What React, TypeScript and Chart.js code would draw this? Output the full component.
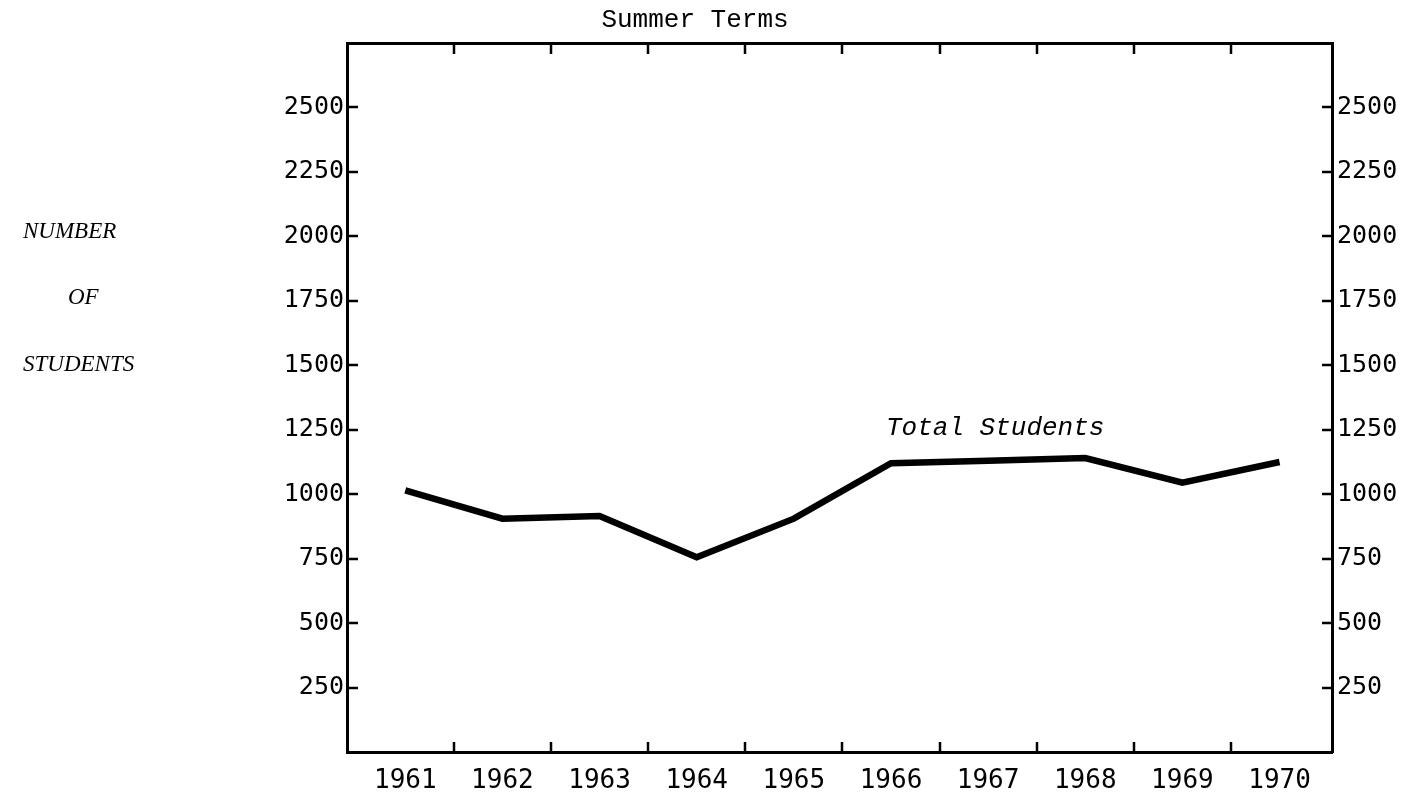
import React, { useEffect, useRef } from "react";
import { Chart, registerables } from "chart.js";

Chart.register(...registerables);

// ---- data ----
const years = [1961, 1962, 1963, 1964, 1965, 1966, 1967, 1968, 1969, 1970];
const totalStudents = [1015, 905, 915, 755, 905, 1120, 1130, 1140, 1045, 1125];
const yTickValues = [250, 500, 750, 1000, 1250, 1500, 1750, 2000, 2250, 2500];
const chartTitle = "Summer Terms";
const yTitleLines = ["NUMBER", "OF", "STUDENTS"];
const seriesLabel = "Total Students";

const W = 1417;
const H = 796;

const decorPlugin = {
  id: "decor",
  afterDraw(chart: any) {
    const ctx = chart.ctx;
    const area = chart.chartArea;
    const xs = chart.scales.x;
    const ys = chart.scales.y;
    ctx.save();
    // inward tick marks
    ctx.strokeStyle = "#000";
    ctx.lineWidth = 2.5;
    ctx.beginPath();
    for (let i = 0; i < years.length - 1; i++) {
      const px = Math.round(xs.getPixelForValue(years[i] + 0.5));
      ctx.moveTo(px, area.bottom);
      ctx.lineTo(px, area.bottom - 10);
      ctx.moveTo(px, area.top);
      ctx.lineTo(px, area.top + 11);
    }
    for (const v of yTickValues) {
      const py = Math.round(ys.getPixelForValue(v));
      ctx.moveTo(area.left, py);
      ctx.lineTo(area.left + 11, py);
      ctx.moveTo(area.right, py);
      ctx.lineTo(area.right - 10, py);
    }
    ctx.stroke();

    ctx.fillStyle = "#000";
    // title
    ctx.font = "26px 'Liberation Mono'";
    ctx.textAlign = "center";
    ctx.textBaseline = "alphabetic";
    ctx.fillText(chartTitle, 695, 27);

    // left axis caption
    ctx.font = "italic 23px 'Liberation Serif'";
    ctx.textAlign = "left";
    const capX = [23, 68, 23];
    const capY = [238, 304, 371];
    yTitleLines.forEach((t, i) => ctx.fillText(t, capX[i], capY[i]));

    // series label
    ctx.font = "italic 26px 'Liberation Mono'";
    ctx.textAlign = "left";
    ctx.fillText(seriesLabel, xs.getPixelForValue(1966) - 5, ys.getPixelForValue(1230));
    ctx.restore();
  },
};

export default function App() {
  const ref = useRef<HTMLCanvasElement | null>(null);

  useEffect(() => {
    if (!ref.current) return;
    const tickFont = { family: "'DejaVu Sans Mono'", size: 25 };
    const chart = new Chart(ref.current, {
      type: "line",
      data: {
        datasets: [
          {
            label: seriesLabel,
            data: years.map((yr, i) => ({ x: yr, y: totalStudents[i] })),
            borderColor: "#000",
            backgroundColor: "#000",
            borderWidth: 6.5,
            pointRadius: 0,
            tension: 0,
          },
        ],
      },
      options: {
        responsive: false,
        animation: false,
        layout: { padding: 0 },
        plugins: {
          legend: { display: false },
          title: { display: false },
          tooltip: { enabled: false },
        },
        scales: {
          x: {
            type: "linear",
            position: "bottom",
            min: 1960.4,
            max: 1970.54,
            afterBuildTicks: (s: any) => {
              s.ticks = years.map((v) => ({ value: v }));
            },
            afterFit: (s: any) => {
              s.height = 44;
            },
            ticks: {
              color: "#000",
              font: { family: "'DejaVu Sans Mono'", size: 26 },
              padding: 14,
              maxRotation: 0,
              autoSkip: false,
              callback: (v: any) => String(v),
            },
            grid: { display: false, drawTicks: false },
            border: { display: true, color: "#000", width: 3 },
          },
          x2: {
            type: "linear",
            position: "top",
            min: 1960.4,
            max: 1970.54,
            afterFit: (s: any) => {
              s.height = 43;
            },
            ticks: { display: false },
            grid: { display: false, drawTicks: false },
            border: { display: true, color: "#000", width: 3 },
          },
          y: {
            type: "linear",
            position: "left",
            min: 0,
            max: 2750,
            afterBuildTicks: (s: any) => {
              s.ticks = yTickValues.map((v) => ({ value: v }));
            },
            afterFit: (s: any) => {
              s.width = 347;
            },
            ticks: {
              color: "#000",
              font: tickFont,
              padding: 3,
              autoSkip: false,
              callback: (v: any) => String(v),
            },
            grid: { display: false, drawTicks: false },
            border: { display: true, color: "#000", width: 3 },
          },
          y2: {
            type: "linear",
            position: "right",
            min: 0,
            max: 2750,
            afterBuildTicks: (s: any) => {
              s.ticks = yTickValues.map((v) => ({ value: v }));
            },
            afterFit: (s: any) => {
              s.width = W - 1332;
            },
            ticks: {
              color: "#000",
              font: tickFont,
              padding: 5,
              autoSkip: false,
              callback: (v: any) => String(v),
            },
            grid: { display: false, drawTicks: false },
            border: { display: true, color: "#000", width: 3 },
          },
        },
      } as any,
      plugins: [decorPlugin],
    });
    return () => chart.destroy();
  }, []);

  return (
    <div style={{ position: "absolute", left: 0, top: 0, width: W, height: H, background: "#fff" }}>
      <canvas ref={ref} width={W} height={H} style={{ display: "block" }} />
    </div>
  );
}
